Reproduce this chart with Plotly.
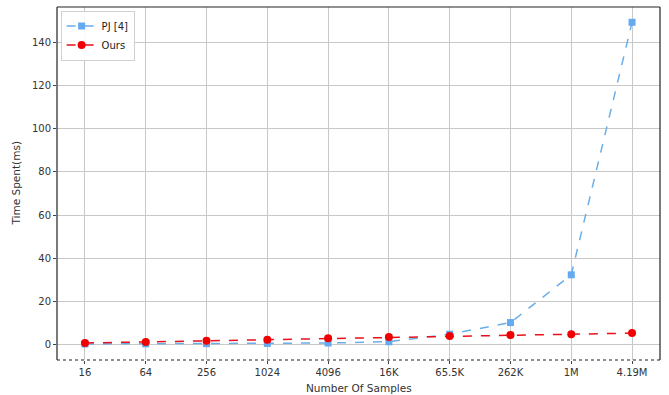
import plotly.graph_objects as go

sample_labels = ["16", "64", "256", "1024", "4096", "16K", "65.5K", "262K", "1M", "4.19M"]
pj_times = [0.05, 0.1, 0.2, 0.3, 0.5, 1.1, 4.6, 10.0, 32.2, 149.6]
ours_times = [0.5, 1.0, 1.5, 2.0, 2.7, 3.3, 3.7, 4.2, 4.6, 5.1]

x_idx = list(range(len(sample_labels)))

fig = go.Figure()
fig.add_trace(go.Scatter(
    x=x_idx, y=pj_times, name="PJ [4]", mode="lines+markers",
    line=dict(color="#6aaee8", dash="dash", width=1.5),
    marker=dict(symbol="square", size=7, color="#64aaf0"),
))
fig.add_trace(go.Scatter(
    x=x_idx, y=ours_times, name="Ours", mode="lines+markers",
    line=dict(color="#e8101c", dash="dash", width=1.5),
    marker=dict(symbol="circle", size=8, color="#f00000"),
))

font = "DejaVu Sans, sans-serif"
fig.update_layout(
    width=669, height=395,
    margin=dict(l=57, r=9, t=7, b=35),
    paper_bgcolor="white", plot_bgcolor="white",
    font=dict(family=font, size=10, color="#333333"),
    showlegend=True,
    legend=dict(x=0.006, y=0.99, xanchor="left", yanchor="top",
                bgcolor="rgba(255,255,255,0.9)", bordercolor="#d0d0d0", borderwidth=1,
                itemwidth=30, tracegroupgap=0,
                font=dict(size=10, color="#222222")),
    xaxis=dict(
        range=[-0.46, 9.46], tickmode="array", tickvals=x_idx, ticktext=sample_labels,
        showgrid=True, gridcolor="#c8c8c8", gridwidth=1, zeroline=False, showline=False,
        ticks="outside", ticklen=3, tickcolor="#444", automargin=False,
    ),
    yaxis=dict(
        range=[-7.4, 156.7], tickmode="array", tickvals=[0, 20, 40, 60, 80, 100, 120, 140],
        showgrid=True, gridcolor="#c8c8c8", gridwidth=1, zeroline=False, showline=False,
        ticks="outside", ticklen=3, tickcolor="#444", automargin=False,
    ),
    annotations=[
        dict(text="Number Of Samples", xref="paper", yref="paper", x=0.5, y=0,
             yshift=-28, xanchor="center", yanchor="middle", showarrow=False,
             font=dict(size=10.5, color="#333333")),
        dict(text="Time Spent(ms)", xref="paper", yref="paper", x=0, y=0.5,
             xshift=-42, xanchor="center", yanchor="middle", textangle=-90, showarrow=False,
             font=dict(size=10.5, color="#333333")),
    ],
    shapes=[
        dict(type="line", xref="paper", yref="paper", x0=0, x1=0, y0=0, y1=1, line=dict(color="#222", width=1.2)),
        dict(type="line", xref="paper", yref="paper", x0=1, x1=1, y0=0, y1=1, line=dict(color="#222", width=1.2)),
        dict(type="line", xref="paper", yref="paper", x0=0, x1=1, y0=1, y1=1, line=dict(color="#222", width=1.2)),
        dict(type="line", xref="paper", yref="paper", x0=0, x1=1, y0=0, y1=0, line=dict(color="#222", width=1.2, dash="dot")),
    ],
)

fig.write_html("out.html", config={"displayModeBar": False},
               post_script="document.body.style.margin='0';document.body.style.overflow='hidden';")
